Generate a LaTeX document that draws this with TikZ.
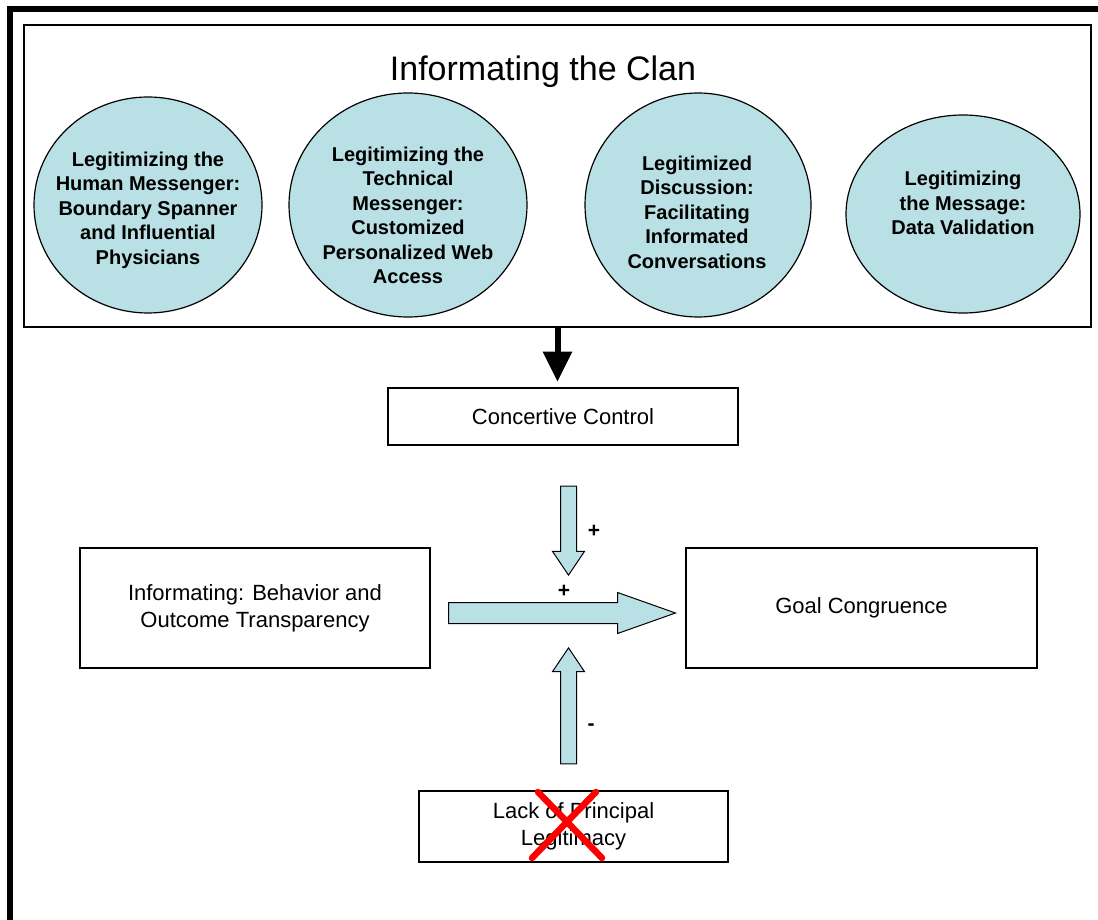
\documentclass[tikz,border=0pt]{standalone}
\usepackage{fontspec}
\setmainfont{Liberation Sans}
\usepackage{tikz}
\usetikzlibrary{shapes.geometric,shapes.arrows,arrows.meta}
\definecolor{clanteal}{RGB}{185,224,228}
\definecolor{crossred}{RGB}{255,0,0}

\begin{document}
\begin{tikzpicture}[x=1pt,y=-1pt,
  bubble/.style={ellipse, draw, line width=1.2pt, fill=clanteal, inner sep=0pt},
  bubtext/.style={align=center, font=\fontsize{20}{24.5}\selectfont\bfseries},
  plainbox/.style={rectangle, draw, line width=2.6pt, align=center, font=\fontsize{22}{27}\selectfont},
  fatarrow/.style={single arrow, draw, line width=1pt, fill=clanteal, inner xsep=0pt, anchor=tip},
  sign/.style={font=\fontsize{21}{21}\selectfont\bfseries},
  crossout/.style={draw=crossred, line width=6.5pt, line cap=round}]
	\useasboundingbox (0,0) rectangle (1098,920);
	\draw[line width=6pt] (10,920) -- (10,9) -- (1098,9);
	\node[draw, line width=1.5pt, minimum width=1067pt, minimum height=302pt] (clan) at (557.5,176) {};
	\node[font=\fontsize{34}{34}\selectfont] (title) at (543,72) {Informating the Clan};
	\node[bubble, minimum width=228pt, minimum height=216pt] (C1) at (148,205) {};
	\node[bubble, minimum width=238pt, minimum height=224pt] (C2) at (408,205) {};
	\node[bubble, minimum width=226pt, minimum height=224pt] (C3) at (698,205) {};
	\node[bubble, minimum width=234pt, minimum height=198pt] (C4) at (963,214) {};
	\node[bubtext] (T1) at (148,210) {Legitimizing the\\Human Messenger:\\Boundary Spanner\\and Influential\\Physicians};
	\node[bubtext] (T2) at (408,215.5) {Legitimizing the\\Technical\\Messenger:\\Customized\\Personalized Web\\Access};
	\node[bubtext] (T3) at (697,212) {Legitimized\\Discussion:\\Facilitating\\Informated\\Conversations};
	\node[bubtext] (T4) at (963,203) {Legitimizing\\the Message:\\Data Validation};
	\node[plainbox, minimum width=350pt, minimum height=57pt] (cc) at (563,416.5) {Concertive Control};
	\node[plainbox, minimum width=350pt, minimum height=120pt] (behav) at (255,608) {Informating: Behavior and\\Outcome Transparency};
	\node[plainbox, minimum width=351pt, minimum height=120pt] (goal) at (861.5,608) {Goal Congruence};
	\node[plainbox, minimum width=309pt, minimum height=71pt] (lack) at (573.5,826.5) {Lack of Principal\\Legitimacy};
	\node[fatarrow, rotate=-90, inner ysep=7.5pt, minimum height=89pt, minimum width=31pt, single arrow head extend=8pt, single arrow tip angle=68] (down) at (568.5,576) {};
	\node[fatarrow, inner ysep=10pt, minimum height=227pt, minimum width=40pt, single arrow head extend=10pt, single arrow tip angle=39] (mid) at (677,613) {};
	\node[fatarrow, rotate=90, inner ysep=7.5pt, minimum height=116pt, minimum width=31pt, single arrow head extend=8pt, single arrow tip angle=68] (up) at (568.5,647) {};
	\node[sign] (P1) at (594,531) {+};
	\node[sign] (P2) at (564,591) {+};
	\node[sign] (M1) at (591,727) {-};
	\draw[line width=6pt, -{Triangle[width=28pt,length=30pt]}] (clan.south) -- ([yshift=5pt]clan.south |- cc.north);
	\draw[crossout] (538,792) -- (602,858);
	\draw[crossout] (596,792) -- (532,858);
\end{tikzpicture}
\end{document}
